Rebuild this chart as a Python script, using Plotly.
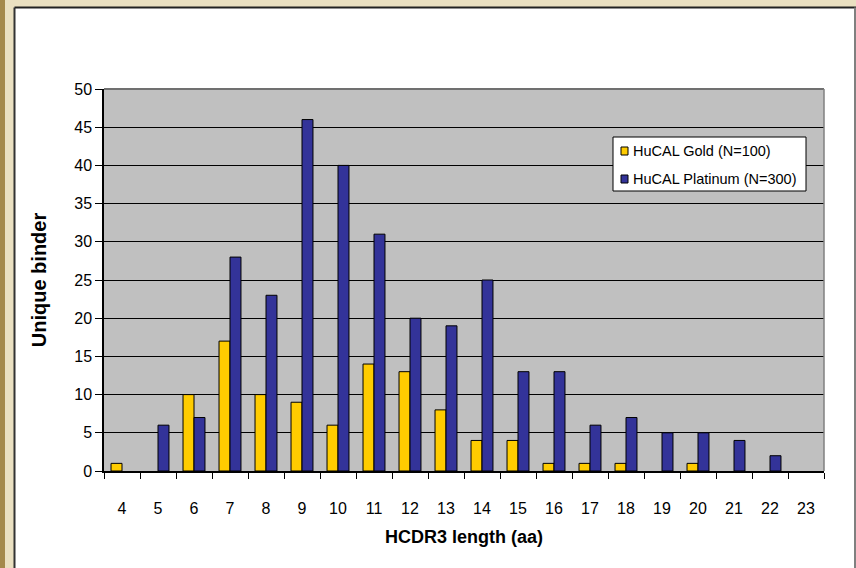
import plotly.graph_objects as go

# HCDR3 length distribution of unique binders
lengths = [str(v) for v in range(4, 24)]
gold_counts = [1, 0, 10, 17, 10, 9, 6, 14, 13, 8, 4, 4, 1, 1, 1, 0, 1, 0, 0, 0]
platinum_counts = [0, 6, 7, 28, 23, 46, 40, 31, 20, 19, 25, 13, 13, 6, 7, 5, 5, 4, 2, 0]
series_names = ["HuCAL Gold (N=100)", "HuCAL Platinum (N=300)"]
series_colors = ["#FFCC00", "#333399"]
y_ticks = list(range(0, 51, 5))

W, H = 856, 568
L, R, T, B = 104, 32, 89, 97
PW, PH = W - L - R, H - T - B
FONT = "Liberation Sans, Arial, sans-serif"


def px(x):
    return (x - L) / PW


def py(y):
    return (H - B - y) / PH


fig = go.Figure()
for name, vals, col in zip(series_names, [gold_counts, platinum_counts], series_colors):
    # empty lengths get no bar at all (no flat outline on the axis)
    fig.add_trace(go.Bar(
        x=lengths, y=[v if v else None for v in vals], name=name,
        marker=dict(color=col, line=dict(color="#000000", width=1)),
        showlegend=False,
    ))

shapes = []
# page frame: gold stripe, beige band, dark border
shapes.append(dict(type="rect", xref="paper", yref="paper", x0=px(0), x1=px(5), y0=py(H), y1=py(0),
                   fillcolor="#A4894B", line=dict(width=0), layer="below"))
shapes.append(dict(type="rect", xref="paper", yref="paper", x0=px(5), x1=px(14), y0=py(H), y1=py(0),
                   fillcolor="#EAE0C1", line=dict(width=0), layer="below"))
shapes.append(dict(type="rect", xref="paper", yref="paper", x0=px(5), x1=px(W), y0=py(7), y1=py(0),
                   fillcolor="#EAE0C1", line=dict(width=0), layer="below"))
shapes.append(dict(type="line", xref="paper", yref="paper", x0=px(14.5), x1=px(14.5), y0=py(H), y1=py(7.5),
                   line=dict(color="#333333", width=2)))
shapes.append(dict(type="line", xref="paper", yref="paper", x0=px(14.5), x1=px(W), y0=py(7.5), y1=py(7.5),
                   line=dict(color="#222222", width=2)))
shapes.append(dict(type="line", xref="paper", yref="paper", x0=px(W - 1), x1=px(W - 1), y0=py(H), y1=py(7.5),
                   line=dict(color="#808080", width=2)))
# plot area border (top, right)
shapes.append(dict(type="line", xref="paper", yref="paper", x0=0, x1=1, y0=1, y1=1,
                   line=dict(color="#707070", width=2)))
shapes.append(dict(type="line", xref="paper", yref="paper", x0=1, x1=1, y0=0, y1=1,
                   line=dict(color="#808080", width=1.5)))

# legend box
shapes.append(dict(type="rect", xref="paper", yref="paper", x0=px(613), x1=px(806), y0=py(191), y1=py(137),
                   fillcolor="#FFFFFF", line=dict(color="#000000", width=1)))
annotations = []
for i, (name, col) in enumerate(zip(series_names, series_colors)):
    cy = 151 + i * 28
    shapes.append(dict(type="rect", xref="paper", yref="paper", x0=px(621), x1=px(628), y0=py(cy + 4), y1=py(cy - 4),
                       fillcolor=col, line=dict(color="#000000", width=1)))
    annotations.append(dict(xref="paper", yref="paper", x=px(631), y=py(cy), text=name, showarrow=False,
                            xanchor="left", yanchor="middle",
                            font=dict(family=FONT, size=14.5, color="#000000")))

fig.update_layout(
    width=W, height=H,
    margin=dict(l=L, r=R, t=T, b=B, pad=0),
    paper_bgcolor="#FFFFFF",
    plot_bgcolor="#C0C0C0",
    barmode="group",
    bargap=0.39,
    bargroupgap=0,
    shapes=shapes,
    annotations=annotations,
    font=dict(family=FONT, color="#000000"),
    xaxis=dict(
        type="category",
        tickson="boundaries",
        ticks="outside", ticklen=6, tickcolor="#000000", tickwidth=1,
        ticklabelstandoff=22,
        showline=True, linecolor="#000000", linewidth=1.5,
        showgrid=False,
        tickfont=dict(family=FONT, size=16),
        title=dict(text="<b>HCDR3 length (aa)</b>", font=dict(family=FONT, size=18), standoff=14),
    ),
    yaxis=dict(
        range=[0, 50], tickvals=y_ticks,
        ticks="outside", ticklen=7, tickcolor="#000000", tickwidth=1,
        showline=True, linecolor="#000000", linewidth=1.5,
        showgrid=True, gridcolor="#000000", gridwidth=1,
        zeroline=False,
        tickfont=dict(family=FONT, size=16),
        title=dict(text="<b>Unique binder</b>", font=dict(family=FONT, size=20), standoff=22),
    ),
)

fig.write_html("out.html")
